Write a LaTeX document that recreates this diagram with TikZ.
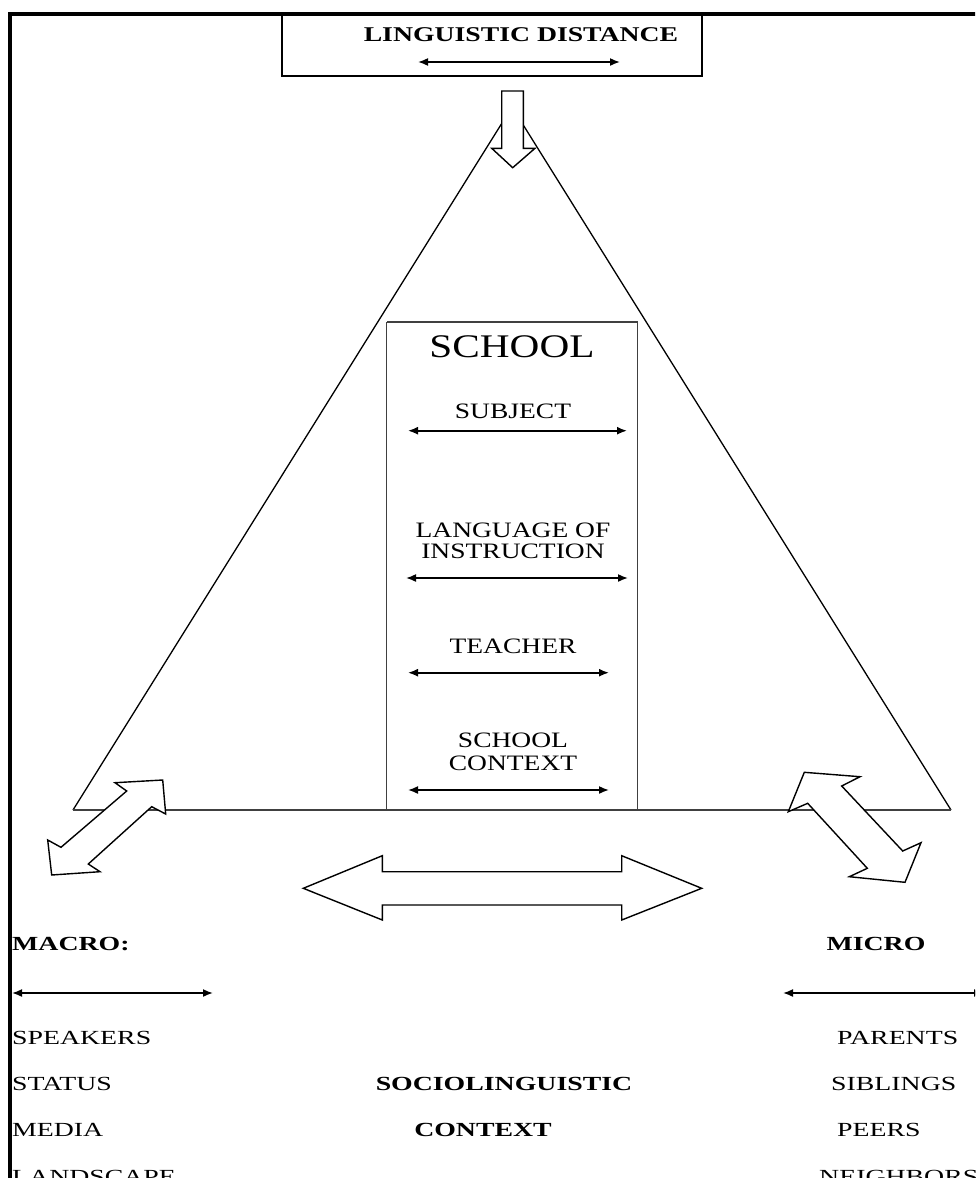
\documentclass[tikz,border=0pt]{standalone}
\usepackage{fontspec}
\setmainfont{Liberation Serif}
\newfontfamily\botf[FakeStretch=1.39]{Liberation Serif}
\newfontfamily\boxf[FakeStretch=1.25]{Liberation Serif}
\newfontfamily\topf[FakeStretch=1.32]{Liberation Serif}
\usetikzlibrary{arrows.meta}
\begin{document}
\begin{tikzpicture}[x=1pt,y=-1pt,
  txt/.style={inner sep=0pt, anchor=base},
  bot/.style={txt, font=\botf\fontsize{20}{20}\selectfont},
  botL/.style={bot, anchor=base west},
  botb/.style={bot, font=\botf\bfseries\fontsize{20}{20}\selectfont},
  inbox/.style={txt, font=\boxf\fontsize{22}{22}\selectfont},
  title/.style={txt, font=\boxf\fontsize{33}{33}\selectfont},
  toptxt/.style={txt, font=\topf\bfseries\fontsize{21}{21}\selectfont},
  dbl/.style={{Latex[length=10pt,width=8pt]}-{Latex[length=10pt,width=8pt]}, line width=1.6pt},
  blk/.style={draw, line width=1.4pt, fill=white, line join=miter},
  thin/.style={line width=1.3pt}]
\useasboundingbox (0,0) rectangle (975,1178);
\clip (0,0) rectangle (975,1178);
% frame
\draw[line width=3.4pt] (10,1190) -- (10,14) -- (985,14);
% top box
\draw[line width=1.6pt] (282,14) rectangle (702,76);
\node[toptxt] (ld) at (521,41.7) {LINGUISTIC DISTANCE};
\draw[dbl] (418,62) -- (620,62);
% triangle
\coordinate (apex) at (512,107);
\coordinate (bl) at (73,810);
\coordinate (br) at (951,810);
\draw[thin] (bl) -- (apex) -- (br);
\draw[line width=1.6pt, black!75] (bl) -- (br);
% down arrow
\draw[blk] (501.7,91) -- (523.3,91) -- (523.3,148.3) -- (535,148.3) -- (512.7,167.7) -- (491.7,148.3) -- (501.7,148.3) -- cycle;
% school box
\draw[line width=1.6pt, black!75] (386.5,322) -- (386.5,810) (637.5,810) -- (637.5,322) -- (386.5,322);
\node[title] (school) at (512,357) {SCHOOL};
\node[inbox] (subj) at (513,418) {SUBJECT};
\draw[dbl] (408,430.7) -- (627,430.7);
\node[inbox] (lang1) at (513,537) {LANGUAGE OF};
\node[inbox] (lang2) at (513,558) {INSTRUCTION};
\draw[dbl] (406,578) -- (628,578);
\node[inbox] (teach) at (513,653) {TEACHER};
\draw[dbl] (408,672.7) -- (609,672.7);
\node[inbox] (sc1) at (513,747) {SCHOOL};
\node[inbox] (sc2) at (513,770) {CONTEXT};
\draw[dbl] (408,790) -- (609,790);
% diagonal block arrows
\draw[blk] (162.7,780) -- (165.7,814) -- (151.7,806.7) -- (88.3,864) -- (100,871.7) -- (51.7,875) -- (47.7,840) -- (61,847.3) -- (126.7,791) -- (115,782.7) -- cycle;
\draw[blk] (804.3,772.3) -- (860,776.7) -- (841.7,786) -- (902.7,851) -- (921,842.7) -- (905,882.3) -- (849.3,876.7) -- (867.3,868.3) -- (807.7,803.3) -- (788.3,811.7) -- cycle;
% horizontal block arrow
\draw[blk] (303.3,888.3) -- (382.3,855.7) -- (382.3,871.7) -- (621.7,871.7) -- (621.7,855.7) -- (701.7,888.3) -- (621.7,920) -- (621.7,905) -- (382.3,905) -- (382.3,920) -- cycle;
% macro / micro
\node[botb, anchor=base west] (macro) at (12,950) {MACRO:};
\draw[dbl] (12,993) -- (213,993);
\node[botb] (micro) at (876,950) {MICRO};
\draw[dbl] (783,993) -- (984,993);
% lists
\node[botL] (spk) at (12,1044) {SPEAKERS};
\node[botL] (sta) at (12,1090) {STATUS};
\node[botL] (med) at (12,1136.7) {MEDIA};
\node[botL] (lan) at (12,1183) {LANDSCAPE};
\node[botb] (soc) at (504,1090) {SOCIOLINGUISTIC};
\node[botb] (ctx) at (483,1136.7) {CONTEXT};
\node[botL] (par) at (837,1044) {PARENTS};
\node[botL] (sib) at (831,1090) {SIBLINGS};
\node[botL] (pee) at (837,1136.7) {PEERS};
\node[botL] (nei) at (819,1183) {NEIGHBORS};
\end{tikzpicture}
\end{document}
